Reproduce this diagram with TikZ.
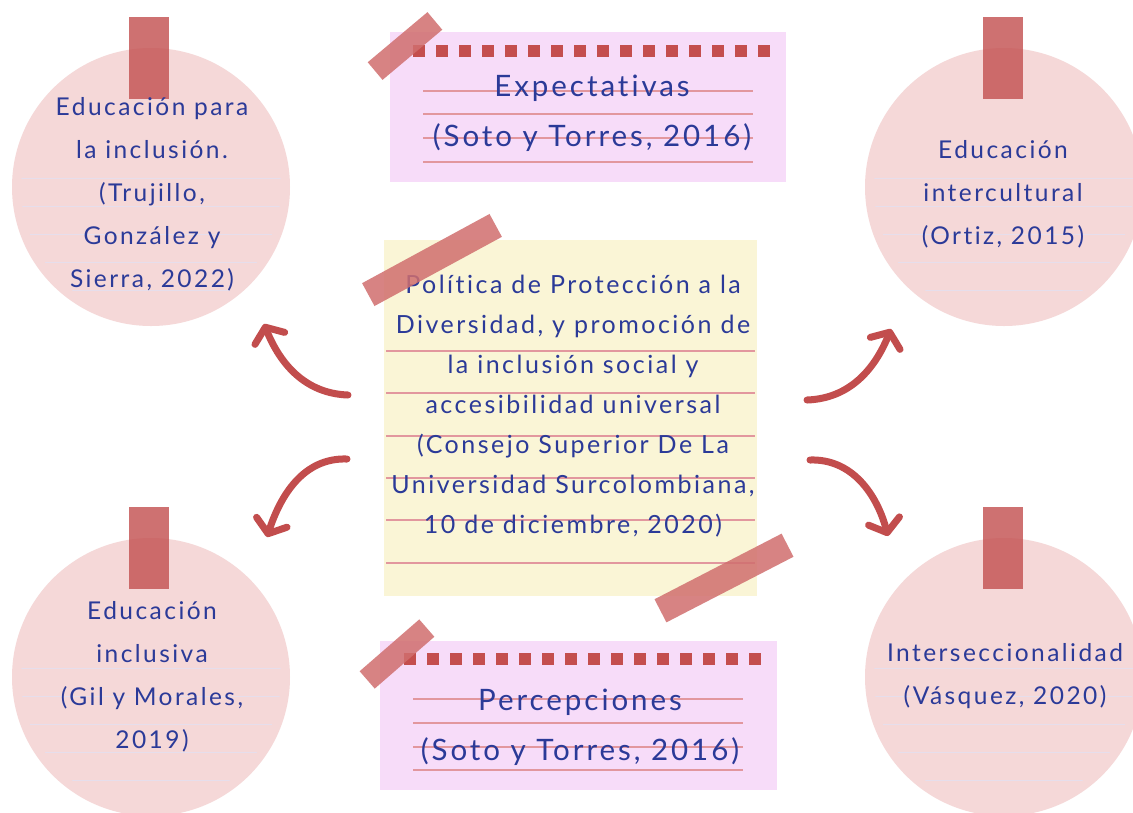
\documentclass[tikz,border=0pt]{standalone}
\usepackage{fontspec}
\setmainfont{Lato}[LetterSpace=10, Ligatures={NoCommon}]
\usetikzlibrary{arrows.meta}
\definecolor{circfill}{HTML}{F5D8D8}
\definecolor{circline}{HTML}{E6DEEC}
\definecolor{tapered}{HTML}{C45252}
\definecolor{tapelight}{HTML}{D06E6E}
\definecolor{notepink}{HTML}{F7DCF9}
\definecolor{noteyellow}{HTML}{FAF5D6}
\definecolor{ruled}{HTML}{E2979E}
\definecolor{sqred}{HTML}{C44E4E}
\definecolor{arrowred}{HTML}{C24D4D}
\definecolor{inkblue}{HTML}{2B3A98}
\tikzset{
  circnote/.style={circle, fill=circfill, minimum size=278pt, inner sep=0pt},
  circtape/.style={fill=tapered, fill opacity=0.82},
  notetape/.style={rectangle, fill=tapelight, fill opacity=0.85, inner sep=0pt},
  ruledline/.style={draw=ruled, line width=1.2pt},
  circruled/.style={draw=circline, line width=1pt},
  sq/.style={fill=sqred},
  circtext/.style={text=inkblue, align=center, font=\fontsize{24.5}{43}\selectfont},
  notetext/.style={text=inkblue, align=center, font=\fontsize{29.5}{50}\selectfont},
  centertext/.style={text=inkblue, align=center, font=\fontsize{25}{40}\selectfont},
  bigarrow/.style={draw=arrowred, line width=7pt, line cap=round,
    -{Straight Barb[length=12pt,width=32pt,line cap=round,line join=round]}},
}
\begin{document}
\begin{tikzpicture}[x=1pt,y=1pt]
\useasboundingbox (0,0) rectangle (1133,-812);
\fill[white] (0,0) rectangle (1133,-812);

% ---------- circles ----------
\foreach \nm/\cx/\cy in {ctl/151/187, ctr/1004/187, cbl/151/677, cbr/1004/677}{
  \node[circnote] (\nm) at (\cx,-\cy) {};
  \begin{scope}
    \clip (\cx,-\cy) circle (130);
    \foreach \d in {-9,19,47,75,103}{
      \draw[circruled] (\cx-140,-\cy-\d) -- (\cx+140,-\cy-\d);
    }
  \end{scope}
}
% tapes on circles
\fill[circtape] (129,-17) rectangle (169,-99);
\fill[circtape] (983,-17) rectangle (1023,-99);
\fill[circtape] (129,-507) rectangle (169,-589);
\fill[circtape] (983,-507) rectangle (1023,-589);

% circle texts
\node[circtext] (ttl) at (152,-194) {Educación para\\la inclusión.\\(Trujillo,\\González y\\Sierra, 2022)};
\node[circtext] (ttr) at (1003,-194) {Educación\\intercultural\\(Ortiz, 2015)};
\node[circtext] (tbl) at (152,-677) {Educación\\inclusiva\\(Gil y Morales,\\2019)};
\node[circtext] (tbr) at (1005,-676) {Interseccionalidad\\(Vásquez, 2020)};

% ---------- top note ----------
\fill[notepink] (390,-32) rectangle (786,-182);
\foreach \i in {0,...,15}{
  \fill[sq] (413+23*\i,-45) rectangle (425+23*\i,-57);
}
\foreach \yy in {91,114,138,162}{
  \draw[ruledline] (423,-\yy) -- (753,-\yy);
}
\node[notetext] (exp) at (592,-113) {Expectativas\\(Soto y Torres, 2016)};
\node[notetape, minimum width=78pt, minimum height=23pt, rotate=40] (tapeA) at (405,-46) {};

% ---------- bottom note ----------
\fill[notepink] (380,-641) rectangle (777,-790);
\foreach \i in {0,...,15}{
  \fill[sq] (404+23*\i,-653) rectangle (416+23*\i,-665);
}
\foreach \yy in {699,723,747,770}{
  \draw[ruledline] (413,-\yy) -- (743,-\yy);
}
\node[notetext] (per) at (580,-727) {Percepciones\\(Soto y Torres, 2016)};
\node[notetape, minimum width=79pt, minimum height=23pt, rotate=41] (tapeB) at (397,-654) {};

% ---------- center note ----------
\fill[noteyellow] (384,-240) rectangle (757,-596);
\foreach \yy in {351,393,436,478,520,563}{
  \draw[ruledline] (386,-\yy) -- (755,-\yy);
}
\node[centertext] (ctrtext) at (573,-406) {Política de Protección a la\\Diversidad, y promoción de\\la inclusión social y\\accesibilidad universal\\(Consejo Superior De La\\Universidad Surcolombiana,\\10 de diciembre, 2020)};
\node[notetape, minimum width=145pt, minimum height=26pt, rotate=28.5] (tapeC) at (432,-260) {};
\node[notetape, minimum width=143pt, minimum height=26pt, rotate=27.3] (tapeD) at (724,-578) {};

% ---------- arrows ----------
\coordinate (a1s) at (348,-395); \coordinate (a1e) at (264,-324);
\coordinate (a2s) at (347,-459); \coordinate (a2e) at (267,-537);
\coordinate (a3s) at (807,-400); \coordinate (a3e) at (891,-329);
\coordinate (a4s) at (810,-460); \coordinate (a4e) at (888,-536);
\draw[bigarrow] (a1s) to[out=178,in=-68] (a1e);
\draw[bigarrow] (a2s) to[out=178,in=72] (a2e);
\draw[bigarrow] (a3s) to[out=2,in=-112] (a3e);
\draw[bigarrow] (a4s) to[out=2,in=105] (a4e);
\end{tikzpicture}
\end{document}
